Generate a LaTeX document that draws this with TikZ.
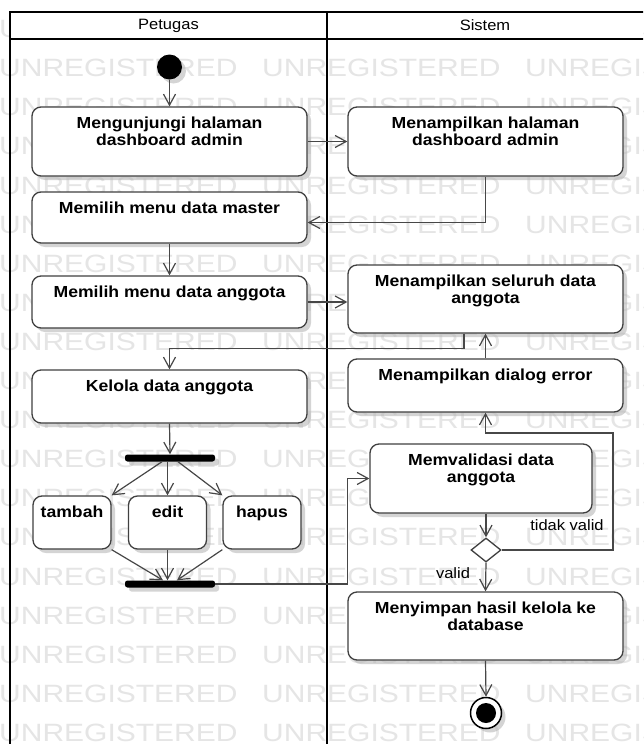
\documentclass[tikz,border=0pt]{standalone}
\usepackage{fontspec}
\setmainfont[FakeStretch=1.1]{Liberation Sans}
\newfontfamily\wmfont[FakeStretch=1.2]{Liberation Sans}
\usetikzlibrary{arrows.meta,shapes.geometric,shadows,calc}

% action text: top-aligned, centred, bold
\newcommand\acttxt[3]{\parbox[c][#2pt][t]{#1pt}{\centering\fontsize{16}{17}\selectfont\bfseries\rule{0pt}{21.5pt}#3\par}}

\begin{document}
\begin{tikzpicture}[x=1pt,y=-1pt,
  boxshadow/.style={drop shadow={shadow xshift=4pt,shadow yshift=-4pt,fill=black!30,opacity=0.55}},
  act/.style={draw=black!75,line width=1.3pt,rounded corners=9pt,fill=white,inner sep=0pt,boxshadow},
  flow/.style={draw=black!72,line width=1.2pt,-{Straight Barb[length=11pt,width=12pt]}},
  syncbar/.style={fill=black,rounded corners=2.5pt,minimum width=90pt,minimum height=7pt,inner sep=0pt,boxshadow},
  lbl/.style={font=\fontsize{15}{17}\selectfont,inner sep=0pt},
  wm/.style={text=black!10,font=\wmfont\fontsize{25}{25}\selectfont,inner sep=0pt,anchor=west},
  frame/.style={line width=2pt,draw=black}]
\useasboundingbox (0,0) rectangle (643,744);
\clip (0,0) rectangle (643,744);
\fill[white] (0,0) rectangle (643,744);

% watermark rows
\foreach \k in {0,...,18}{
  \foreach \j in {0,1,2}{
    \node[wm] (wm-\k-\j) at ({263*\j-1},{29+39.1*\k}) {UNREGISTERED};
  }
}

% swimlane header
\fill[white] (10,12) rectangle (660,39);
\draw[frame] (10,760) -- (10,12) -- (660,12);
\draw[frame] (10,39) -- (660,39);
\draw[frame] (327,12) -- (327,760);
\node[lbl] (lane1) at (168.5,25.5) {Petugas};
\node[lbl] (lane2) at (485,25.5) {Sistem};

% initial node
\node[circle,fill=black,minimum size=25pt,inner sep=0pt,boxshadow] (start) at (169.5,67) {};

% actions, lane Petugas
\node[act] (b1) at (169.5,141.5) {\acttxt{275}{69}{Mengunjungi halaman\\dashboard admin}};
\node[act] (b3) at (169.5,217.5) {\acttxt{275}{51}{Memilih menu data master}};
\node[act] (b4) at (169.5,302) {\acttxt{275}{52}{Memilih menu data anggota}};
\node[act] (b6) at (169.5,396.5) {\acttxt{275}{53}{Kelola data anggota}};
\node[act] (tambah) at (72,522.5) {\acttxt{78}{53}{tambah}};
\node[act] (edit) at (167.5,522.5) {\acttxt{78}{53}{edit}};
\node[act] (hapus) at (262,522.5) {\acttxt{78}{53}{hapus}};
\node[syncbar] (fork) at (170,458) {};
\node[syncbar] (join) at (170,584) {};

% actions, lane Sistem
\node[act] (b2) at (485.5,141.5) {\acttxt{275}{69}{Menampilkan halaman\\dashboard admin}};
\node[act] (b5) at (485.5,299) {\acttxt{275}{68}{Menampilkan seluruh data\\anggota}};
\node[act] (b7) at (485.5,385.5) {\acttxt{275}{53}{Menampilkan dialog error}};
\node[act] (b8) at (481,478.5) {\acttxt{222}{69}{Memvalidasi data\\anggota}};
\node[diamond,draw=black!75,line width=1.3pt,fill=white,aspect=1.25,minimum width=30pt,minimum height=24pt,inner sep=0pt] (dec) at (486,550) {};
\node[act] (b9) at (485.5,626) {\acttxt{275}{68}{Menyimpan hasil kelola ke\\database}};

% final node
\node[circle,draw=black,line width=1.5pt,fill=white,minimum size=31pt,inner sep=0pt,boxshadow,
      path picture={\fill[black] (path picture bounding box.center) circle (10pt);}] (end) at (486,713) {};

% control flow
\draw[flow] (start) -- (b1.north);
\draw[flow] (b1.east) -- (b2.west);
\draw[flow] (b2.south) |- ([yshift=-5pt]b3.east);
\draw[flow] (b3.south) -- (b4.north);
\draw[flow] (b4.east) -- (b4.east -| b5.west);
\draw[flow] ([xshift=-21.5pt]b5.south) -- ++(0,15) -| (b6.north);
\draw[flow] (b7.north) -- (b5.south);
\draw[flow] (b6.south) -- (fork.north);
\draw[flow] ([xshift=-8pt]fork.south) -- (tambah.north east);
\draw[flow] (fork.south -| edit.north) -- (edit.north);
\draw[flow] ([xshift=8pt]fork.south) -- (hapus.north west);
\draw[flow] (tambah.south east) -- ([xshift=-7pt]join.north);
\draw[flow] (edit.south) -- (edit.south |- join.north);
\draw[flow] (hapus.south west) -- ([xshift=7pt]join.north);
\draw[flow] (join.east) -- (join.east -| b5.west) |- (b8.west);
\draw[flow] (b8.south -| dec.north) -- (dec.north);
\coordinate (loop) at (613,433);
\draw[flow] (dec.east) -| (loop) -| (b7.south);
\draw[flow] (dec.south) -- (b9.north);
\draw[flow] (b9.south) -- (end.north);

% guards
\node[lbl] (notvalid) at (567,525) {tidak valid};
\node[lbl] (valid) at (453,573) {valid};
\end{tikzpicture}
\end{document}
